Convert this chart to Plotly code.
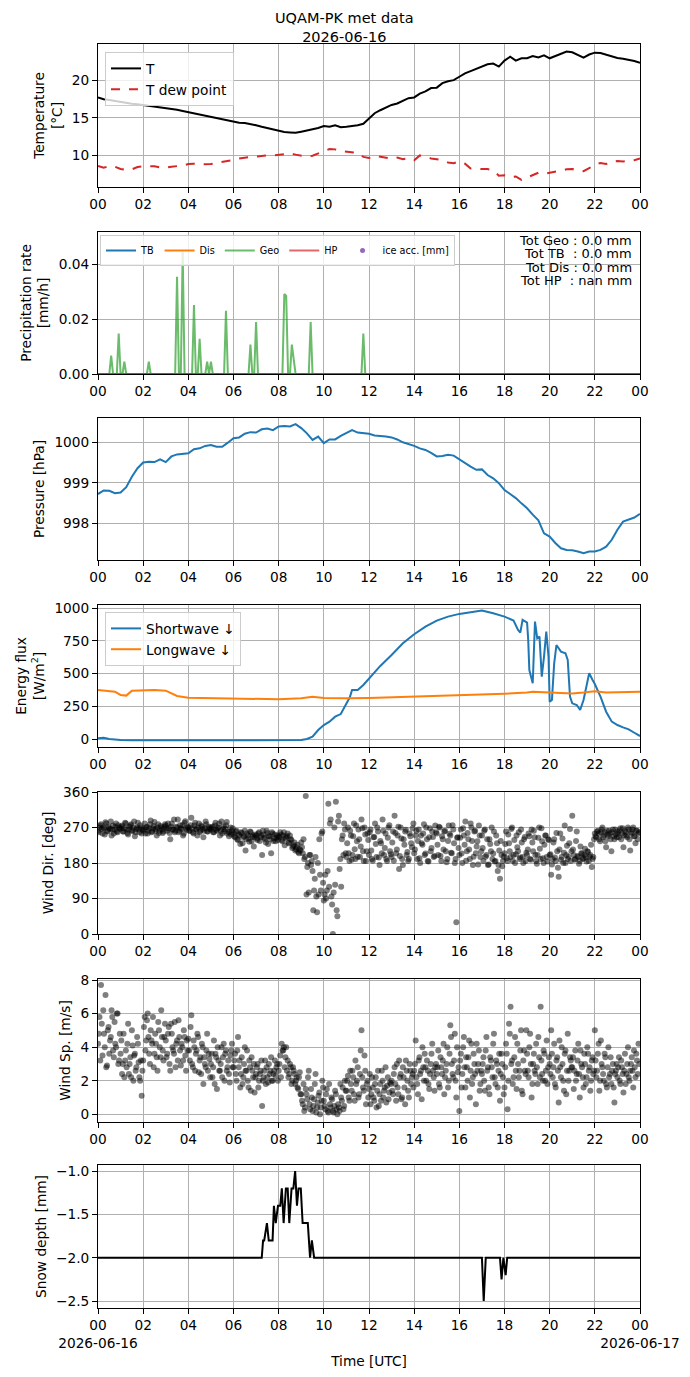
'''Daily met summary for the UQAM-PK station, 7 stacked panels.'''

import pandas as pd
import plotly.graph_objects as go
from plotly.subplots import make_subplots

day0 = pd.Timestamp("2026-06-16")

# Temperature and dew point, every 15 min (4 values per hour line + midnight)
t_air = [17.7, 17.45, 17.35, 17.2,
         17.1, 16.95, 16.85, 16.8,
         16.7, 16.55, 16.45, 16.35,
         16.3, 16.2, 16.05, 15.9,
         15.75, 15.55, 15.4, 15.2,
         15.1, 15.0, 14.85, 14.65,
         14.45, 14.35, 14.3, 14.2,
         14.0, 13.8, 13.6, 13.4,
         13.2, 13.1, 13.05, 13.0,
         13.15, 13.3, 13.55, 13.65,
         13.9, 13.8, 14.0, 13.75,
         13.8, 13.9, 14.0, 14.2,
         14.9, 15.6, 16.0, 16.4,
         16.7, 16.9, 17.2, 17.6,
         17.7, 18.2, 18.5, 18.95,
         19.0, 19.6, 19.85, 20.0,
         20.45, 20.9, 21.2, 21.5,
         21.85, 22.1, 22.2, 21.8,
         22.6, 23.1, 22.6, 22.9,
         22.9, 23.2, 23.0, 23.3,
         22.9, 23.2, 23.6, 23.8,
         23.7, 23.3, 23.0, 23.4,
         23.65, 23.6, 23.35, 23.1,
         22.95, 22.85, 22.75, 22.55,
         22.3]
t_dew = [8.6, 8.35, 8.6, 8.5,
         8.2, 8.05, 8.15, 8.45,
         8.55, 8.6, 8.55, 8.4,
         8.35, 8.5, 8.55, 8.65,
         8.85, 8.9, 8.8, 8.8,
         8.85, 9.0, 9.1, 9.3,
         9.4, 9.6, 9.75, 9.8,
         9.85, 9.95, 10.0, 10.0,
         10.05, 10.15, 10.25, 10.1,
         10.0, 9.85, 9.95, 10.3,
         10.55, 10.85, 10.8, 10.55,
         10.5, 10.4, 10.35, 9.8,
         9.65, 9.95, 9.8, 9.6,
         9.55, 9.7, 9.5, 9.65,
         9.35, 10.0, 9.75, 9.6,
         9.5, 9.35, 9.05, 8.95,
         9.2, 8.9, 8.25, 8.2,
         8.2, 8.2, 8.0, 7.3,
         7.35, 7.1, 7.2, 6.75,
         7.1, 7.4, 7.7, 7.55,
         7.7, 7.95, 8.1, 8.15,
         8.2, 8.1, 7.9, 8.3,
         8.8, 9.0, 8.85, 9.2,
         9.25, 9.2, 9.3, 9.35,
         9.6]

# Geonor precip rate spikes (minute of day, mm/h); other gauges stayed at zero
geo_minute = [35, 55, 70, 135, 210, 225, 255, 270, 290, 300, 340, 405, 420,
              495, 500, 515, 520, 565, 705]
geo_rate = [0.0067, 0.0148, 0.0045, 0.0045, 0.0355, 0.0446, 0.0252, 0.0128,
            0.0045, 0.0045, 0.0231, 0.0107, 0.019, 0.0292, 0.0285, 0.0107,
            0.005, 0.019, 0.0148]
precip_totals = ["Tot Geo : 0.0 mm", "Tot TB\u00a0 : 0.0 mm",
                 "Tot Dis : 0.0 mm", "Tot HP\u00a0 : nan mm"]

# Pressure every 15 min
pres = [998.72, 998.81, 998.80, 998.74,
        998.76, 998.89, 999.15, 999.36,
        999.50, 999.52, 999.51, 999.58,
        999.51, 999.65, 999.70, 999.71,
        999.73, 999.83, 999.85, 999.91,
        999.93, 999.89, 999.89, 999.99,
        1000.10, 1000.12, 1000.21, 1000.25,
        1000.24, 1000.32, 1000.34, 1000.30,
        1000.39, 1000.40, 1000.39, 1000.45,
        1000.35, 1000.22, 1000.06, 1000.14,
        999.98, 1000.07, 1000.07, 1000.16,
        1000.22, 1000.30, 1000.24, 1000.22,
        1000.21, 1000.17, 1000.16, 1000.14,
        1000.12, 1000.07, 1000.00, 999.96,
        999.91, 999.85, 999.81, 999.74,
        999.65, 999.66, 999.69, 999.67,
        999.58, 999.47, 999.40, 999.32,
        999.33, 999.19, 999.11, 998.99,
        998.82, 998.72, 998.62, 998.49,
        998.37, 998.21, 998.07, 997.75,
        997.67, 997.51, 997.38, 997.34,
        997.33, 997.30, 997.26, 997.30,
        997.30, 997.34, 997.42, 997.59,
        997.84, 998.04, 998.10, 998.14,
        998.23]

# Radiation (hour of day, W/m2)
sw_hour = [0, 0.25, 0.5, 1, 1.5, 2, 3, 4, 5, 6, 7, 8, 9, 9.25, 9.5, 9.75,
           10, 10.25, 10.5, 10.75, 11, 11.15, 11.25, 11.5, 11.75, 12, 12.5,
           13, 13.5, 14, 14.5, 15, 15.5, 16, 16.5, 17, 17.5, 18, 18.4, 18.6,
           18.7, 18.8, 19.0, 19.05, 19.1, 19.25, 19.35, 19.45, 19.55, 19.65,
           19.75, 19.85, 19.95, 20.0, 20.1, 20.2, 20.3, 20.5, 20.7, 20.8,
           20.9, 21.0, 21.2, 21.35, 21.5, 21.75, 21.9, 22.0, 22.25, 22.5,
           22.75, 23, 23.25, 23.5, 23.75, 24]
sw_down = [5, 10, 0, -8, -10, -10, -10, -12, -12, -12, -12, -12, -8, 0, 18,
           69, 107, 133, 171, 191, 273, 319, 375, 375, 413, 464, 559, 643,
           732, 801, 860, 906, 936, 957, 967, 982, 962, 936, 906, 834, 814,
           911, 890, 758, 528, 426, 898, 770, 783, 477, 630, 821, 630, 286,
           298, 579, 719, 668, 656, 605, 324, 273, 260, 222, 298, 503, 452,
           421, 324, 209, 133, 107, 89, 74, 48, 23]
lw_hour = [0, 0.5, 0.75, 1, 1.25, 1.5, 2, 2.5, 3, 3.25, 3.5, 4, 5, 6, 7, 8,
           9, 9.25, 9.5, 10, 11, 12, 13, 14, 15, 16, 17, 18, 19, 19.25, 20,
           21, 21.5, 22, 22.5, 23, 24]
lw_down = [375, 370, 362, 337, 332, 370, 375, 375, 370, 349, 329, 316, 314,
           309, 306, 304, 311, 319, 324, 314, 311, 314, 319, 324, 329, 339,
           344, 347, 355, 362, 355, 349, 355, 365, 355, 357, 362]

# Wind, samples every 4 min (15 per hour line); *_b are the samples 2 min later
wind_dir = [262, 270, 278, 255, 268, 283, 260, 272, 266, 250, 275, 264, 280, 258, 270,
            268, 275, 260, 282, 265, 252, 272, 278, 262, 285, 258, 270, 266, 276, 255,
            262, 280, 270, 255, 268, 288, 260, 274, 266, 250, 278, 262, 270, 256, 272,
            275, 262, 268, 240, 280, 265, 258, 272, 290, 262, 268, 276, 255, 286, 264,
            270, 262, 295, 258, 275, 266, 250, 280, 262, 272, 245, 268, 278, 260, 266,
            264, 272, 258, 282, 262, 270, 250, 285, 266, 260, 276, 255, 248, 270, 262,
            255, 245, 262, 238, 250, 258, 230, 248, 212, 255, 242, 260, 235, 250, 245,
            250, 238, 258, 245, 200, 252, 240, 262, 228, 248, 205, 255, 242, 235, 250,
            248, 258, 238, 250, 225, 245, 255, 232, 240, 218, 225, 212, 220, 208, 215,
            232, 205, 190, 350, 170, 105, 200, 185, 60, 140, 95, 180, 240, 110, 260,
            85, 150, 110, 330, 280, 95, 0, 270, 335, 45, 300, 190, 240, 200, 265,
            195, 270, 185, 250, 200, 280, 190, 235, 265, 195, 290, 210, 270, 185, 255,
            200, 265, 190, 245, 280, 195, 260, 175, 230, 290, 200, 255, 185, 270, 210,
            195, 260, 300, 205, 250, 165, 270, 190, 240, 260, 200, 185, 255, 230, 268,
            205, 250, 190, 265, 180, 230, 255, 200, 270, 185, 245, 210, 260, 195, 275,
            255, 200, 270, 185, 240, 260, 210, 190, 275, 250, 205, 265, 180, 30, 245,
            200, 265, 180, 250, 285, 210, 240, 190, 270, 175, 260, 205, 235, 275, 195,
            250, 185, 265, 200, 175, 240, 210, 190, 260, 185, 230, 175, 140, 200, 185,
            205, 260, 185, 230, 195, 270, 200, 180, 250, 210, 190, 265, 195, 240, 185,
            200, 255, 190, 265, 210, 245, 185, 200, 270, 190, 235, 180, 250, 195, 240,
            200, 150, 190, 240, 185, 210, 145, 255, 195, 180, 275, 200, 190, 230, 185,
            300, 200, 190, 260, 195, 185, 205, 190, 200, 195, 210, 185, 200, 170, 195,
            255, 245, 262, 240, 258, 270, 250, 235, 262, 248, 255, 210, 265, 240, 252,
            260, 245, 268, 255, 220, 262, 250, 270, 240, 258, 265, 248, 230, 262, 255]
wind_dir_b = [258, 275, 266, 270, 252, 280, 262, 268, 285, 264, 255, 272, 260, 276, 266,
              272, 260, 268, 280, 256, 265, 275, 262, 270, 248, 266, 282, 258, 270, 264,
              266, 255, 272, 262, 278, 258, 268, 284, 262, 270, 256, 274, 265, 260, 278,
              268, 280, 256, 272, 264, 290, 262, 270, 258, 276, 266, 250, 282, 268, 272,
              262, 276, 268, 255, 282, 264, 270, 258, 275, 266, 262, 285, 260, 272, 268,
              270, 258, 275, 264, 268, 280, 262, 255, 272, 266, 284, 260, 258, 252, 268,
              248, 260, 240, 252, 228, 256, 245, 262, 240, 250, 234, 258, 246, 222, 252,
              242, 255, 236, 250, 262, 244, 232, 256, 248, 240, 258, 236, 252, 244, 238,
              245, 252, 235, 258, 242, 248, 230, 250, 238, 222, 232, 215, 226, 205, 212,
              220, 240, 195, 100, 180, 200, 175, 160, 110, 195, 55, 100, 150, 255, 130,
              100, 90, 160, 120, 290, 75, 105, 125, 60, 285, 165, 120, 250, 280, 205,
              230, 205, 262, 188, 248, 215, 275, 196, 240, 222, 268, 185, 252, 210, 238,
              258, 212, 186, 246, 228, 270, 194, 236, 205, 262, 218, 190, 244, 276, 202,
              232, 186, 256, 214, 272, 198, 242, 175, 226, 264, 208, 190, 248, 220, 280,
              214, 262, 236, 192, 250, 226, 278, 204, 240, 184, 268, 218, 246, 198, 258,
              226, 272, 198, 248, 214, 262, 182, 236, 254, 206, 276, 230, 190, 244, 218,
              244, 204, 268, 226, 186, 256, 214, 280, 236, 196, 262, 222, 176, 250, 210,
              218, 262, 196, 240, 176, 228, 270, 204, 184, 250, 160, 212, 236, 172, 196,
              228, 192, 252, 210, 266, 186, 238, 202, 220, 258, 194, 232, 180, 246, 206,
              214, 248, 188, 232, 262, 200, 178, 244, 216, 268, 192, 226, 250, 184, 238,
              202, 176, 232, 194, 256, 168, 214, 188, 242, 206, 180, 224, 196, 266, 210,
              214, 188, 236, 198, 178, 222, 204, 192, 216, 184, 208, 196, 226, 190, 240,
              248, 260, 255, 235, 265, 245, 258, 220, 252, 262, 240, 258, 248, 265, 245,
              255, 262, 240, 268, 250, 258, 245, 265, 212, 255, 270, 248, 262, 240, 258]
wind_spd = [4.2, 5.8, 7.7, 3.5, 4.8, 7.1, 2.9, 5.2, 4.4, 6.2, 3.8, 5.5, 4.0, 6.0, 3.2,
            3.6, 2.4, 4.8, 3.2, 2.8, 5.4, 3.0, 2.2, 4.1, 3.5, 2.6, 4.6, 3.1, 2.0, 1.1,
            3.2, 5.8, 4.4, 6.0, 3.6, 5.0, 4.2, 2.8, 4.8, 3.4, 5.5, 4.0, 6.2, 3.8, 4.6,
            4.4, 3.6, 5.2, 2.6, 4.8, 3.8, 5.5, 4.2, 3.2, 4.6, 2.9, 4.0, 5.0, 3.5, 4.4,
            4.5, 3.2, 5.9, 2.8, 4.0, 3.6, 4.8, 2.5, 3.4, 4.2, 1.8, 3.0, 3.8, 2.6, 3.3,
            3.0, 2.2, 4.4, 3.6, 1.5, 3.2, 2.6, 4.0, 3.4, 2.0, 3.8, 2.8, 2.4, 3.5, 4.2,
            2.8, 3.6, 2.0, 4.6, 3.2, 2.4, 1.8, 3.0, 2.6, 3.8, 1.6, 2.8, 3.4, 2.2, 1.3,
            2.4, 3.0, 2.0, 2.6, 0.5, 2.2, 3.2, 2.8, 1.9, 2.4, 3.4, 2.0, 2.6, 2.3, 3.0,
            2.6, 3.5, 4.2, 3.8, 2.8, 4.0, 3.2, 2.4, 2.8, 2.0, 2.6, 1.8, 2.2, 1.5, 2.5,
            1.2, 0.6, 0.2, 1.5, 0.9, 2.6, 0.3, 1.0, 0.5, 1.8, 0.1, 0.7, 1.3, 0.4, 2.0,
            0.8, 0.3, 1.5, 0.1, 0.6, 1.0, 0.2, 0.5, 1.2, 0.0, 0.4, 1.8, 0.8, 0.3, 2.0,
            1.4, 2.3, 0.8, 1.8, 2.6, 1.2, 3.2, 2.0, 1.0, 2.4, 5.0, 1.6, 3.5, 0.6, 2.0,
            1.5, 0.6, 2.2, 1.0, 1.8, 0.4, 2.6, 1.2, 0.8, 2.0, 1.4, 2.8, 1.7, 0.9, 1.9,
            2.0, 1.2, 2.8, 0.8, 1.6, 3.2, 2.4, 1.0, 2.2, 0.6, 2.6, 1.4, 3.0, 1.8, 2.4,
            2.6, 4.4, 1.8, 3.2, 2.4, 0.9, 2.8, 3.6, 2.0, 2.6, 1.5, 3.0, 4.2, 2.2, 2.8,
            2.4, 3.8, 1.6, 2.8, 3.2, 1.2, 2.6, 4.0, 2.0, 5.3, 3.0, 2.2, 4.8, 1.0, 2.5,
            0.2, 3.6, 2.4, 4.6, 1.6, 2.8, 3.4, 1.0, 4.2, 2.2, 3.0, 0.6, 2.6, 3.8, 1.8,
            2.4, 3.4, 1.4, 4.6, 2.8, 1.2, 3.2, 2.2, 4.8, 1.8, 3.0, 2.6, 0.8, 3.6, 2.2,
            1.6, 4.2, 0.3, 5.4, 6.4, 3.2, 2.2, 4.6, 1.5, 3.0, 2.6, 5.0, 1.2, 3.8, 2.4,
            3.6, 2.2, 4.8, 1.0, 3.0, 2.6, 4.2, 1.8, 3.4, 6.4, 2.4, 3.8, 2.0, 4.4, 2.8,
            3.0, 5.0, 2.2, 4.2, 1.6, 3.4, 0.7, 2.8, 4.0, 2.0, 3.6, 1.2, 4.8, 2.6, 3.2,
            2.8, 1.5, 3.8, 2.4, 4.2, 1.0, 3.0, 2.2, 3.6, 1.8, 4.0, 2.6, 1.4, 3.2, 2.4,
            5.0, 2.2, 3.6, 1.4, 4.4, 2.8, 2.0, 3.4, 1.6, 4.0, 2.4, 1.8, 3.0, 0.7, 2.6,
            2.2, 3.4, 1.8, 2.8, 1.3, 3.6, 2.4, 4.0, 2.0, 3.0, 2.6, 3.8, 2.2, 3.2, 4.2]
wind_spd_b = [4.8, 3.2, 5.4, 6.2, 4.0, 2.8, 5.0, 3.6, 4.6, 5.8, 3.4, 4.2, 6.0, 3.0, 4.8,
              4.4, 3.0, 2.2, 3.8, 4.2, 2.4, 3.4, 5.0, 2.0, 3.6, 2.8, 4.2, 2.2, 3.2, 2.6,
              5.2, 3.8, 5.6, 4.6, 3.0, 4.4, 5.8, 3.6, 4.2, 2.6, 5.0, 3.4, 4.6, 3.2, 5.4,
              3.4, 4.8, 3.0, 5.4, 4.0, 3.6, 2.8, 4.4, 5.6, 3.8, 4.2, 3.2, 4.6, 2.6, 3.8,
              3.8, 5.2, 3.0, 4.4, 2.6, 3.8, 4.6, 3.2, 2.4, 4.0, 3.4, 2.8, 4.8, 3.6, 2.2,
              3.6, 2.8, 1.8, 3.4, 4.0, 2.6, 3.0, 2.2, 4.2, 3.6, 2.6, 3.2, 1.9, 3.8, 2.8,
              3.2, 2.4, 3.8, 2.8, 1.6, 3.4, 2.2, 4.0, 2.6, 2.0, 3.2, 1.4, 2.6, 3.0, 2.2,
              2.8, 1.6, 2.4, 3.2, 2.0, 2.6, 1.8, 2.2, 3.0, 2.6, 2.0, 2.4, 3.2, 2.8, 2.0,
              3.0, 2.2, 3.8, 4.0, 3.4, 2.6, 2.2, 3.0, 1.8, 2.8, 2.4, 2.0, 1.6, 2.2, 1.2,
              0.8, 1.8, 0.4, 1.2, 2.2, 0.6, 1.5, 0.2, 0.9, 2.4, 0.4, 1.1, 0.0, 0.8, 1.6,
              0.5, 1.2, 0.2, 1.8, 0.4, 0.9, 0.1, 1.4, 0.3, 0.6, 0.2, 1.0, 1.6, 0.5, 1.4,
              2.0, 1.0, 2.6, 1.4, 2.2, 0.8, 1.8, 2.8, 1.2, 3.8, 2.2, 1.4, 2.6, 1.8, 1.0,
              2.4, 1.2, 1.6, 0.8, 2.2, 1.4, 0.5, 1.8, 2.6, 1.0, 1.6, 0.7, 2.2, 1.3, 1.8,
              1.4, 2.4, 1.8, 3.0, 1.2, 2.2, 0.9, 2.8, 1.6, 3.2, 2.0, 1.0, 2.6, 2.2, 1.6,
              3.0, 2.2, 1.2, 3.4, 2.6, 4.0, 2.0, 2.8, 3.2, 1.8, 2.4, 3.6, 2.6, 1.4, 3.0,
              2.8, 1.8, 3.4, 2.4, 4.2, 2.2, 3.0, 1.6, 3.6, 4.6, 2.4, 3.2, 2.0, 4.0, 2.8,
              3.2, 1.6, 4.0, 2.8, 3.4, 2.0, 4.4, 2.6, 1.8, 3.6, 2.4, 4.2, 3.0, 1.4, 2.6,
              3.0, 2.0, 3.8, 2.6, 1.6, 3.4, 2.8, 4.2, 2.2, 3.2, 1.6, 3.6, 2.4, 3.0, 1.2,
              2.8, 3.6, 2.0, 4.8, 3.0, 1.8, 3.4, 2.6, 4.2, 2.2, 3.8, 1.4, 3.2, 2.6, 5.0,
              2.6, 4.0, 3.0, 1.8, 3.6, 2.4, 2.8, 4.6, 2.2, 3.2, 2.0, 3.6, 2.6, 1.8, 3.4,
              2.4, 3.6, 2.8, 1.8, 3.2, 2.6, 4.4, 2.2, 3.0, 1.4, 3.8, 2.6, 2.0, 3.4, 2.8,
              3.4, 2.6, 2.0, 3.2, 2.4, 3.8, 2.8, 1.6, 3.0, 2.2, 3.6, 2.8, 2.0, 3.4, 2.6,
              3.2, 2.6, 4.2, 2.0, 3.0, 2.4, 3.6, 1.8, 2.8, 2.2, 3.4, 2.6, 1.6, 2.4, 3.0,
              2.8, 2.0, 3.2, 2.4, 2.6, 1.8, 3.0, 2.2, 2.6, 3.4, 1.6, 2.8, 3.6, 2.4, 3.0]

# Snow depth break points (hour of day, mm)
snow_hour = [0, 7.25, 7.31, 7.36, 7.48, 7.56, 7.73, 7.79, 7.87, 7.97, 8.07,
             8.14, 8.22, 8.32, 8.40, 8.47, 8.57, 8.65, 8.73, 8.81, 8.88, 8.98,
             9.06, 9.29, 9.39, 9.47, 9.57, 17.0, 17.08, 17.17, 17.8, 17.87,
             17.95, 18.05, 18.12, 24]
snow_mm = [-2.0, -2.0, -1.8, -1.8, -1.6, -1.8, -1.8, -1.4, -1.6, -1.4, -1.4,
           -1.2, -1.6, -1.2, -1.2, -1.6, -1.2, -1.2, -1.0, -1.4, -1.2, -1.2,
           -1.6, -1.6, -2.0, -1.8, -2.0, -2.0, -2.5, -2.0, -2.0, -2.25, -2.0,
           -2.2, -2.0, -2.0]

hour_ticks = ["00", "02", "04", "06", "08", "10", "12", "14", "16", "18", "20", "22", "00"]


def q(n):
    return pd.date_range(day0, periods=n, freq="15min")


def hrs(h):
    return day0 + pd.to_timedelta(h, unit="h")


t5 = pd.date_range(day0, periods=289, freq="5min")
geo = [0.0] * 289
for m, v in zip(geo_minute, geo_rate):
    geo[m // 5] = v
zeros = [0.0] * 289
t_wa = pd.date_range(day0, periods=len(wind_dir), freq="4min")
t_wb = t_wa + pd.Timedelta(minutes=2)
t_wind = list(t_wa) + list(t_wb)

fig = make_subplots(rows=7, cols=1)

fig.add_trace(go.Scatter(x=q(len(t_air)), y=t_air, name="T", mode="lines",
                         line=dict(color="black", width=2), legend="legend"), 1, 1)
fig.add_trace(go.Scatter(x=q(len(t_dew)), y=t_dew, name="T dew point", mode="lines",
                         line=dict(color="#d62728", width=2, dash="dash"),
                         legend="legend"), 1, 1)

fig.add_trace(go.Scatter(x=t5, y=zeros, name="TB", mode="lines",
                         line=dict(color="#1f77b4", width=2), legend="legend2"), 2, 1)
fig.add_trace(go.Scatter(x=t5, y=zeros, name="Dis", mode="lines",
                         line=dict(color="#ff7f0e", width=2), legend="legend2"), 2, 1)
fig.add_trace(go.Scatter(x=t5, y=geo, name="Geo", mode="lines", opacity=0.7,
                         line=dict(color="#2ca02c", width=2), legend="legend2"), 2, 1)
fig.add_trace(go.Scatter(x=t5, y=zeros, name="HP", mode="lines", opacity=0.7,
                         line=dict(color="#d62728", width=2), legend="legend2"), 2, 1)
fig.add_trace(go.Scatter(x=[None], y=[None], name="ice acc. [mm]", mode="markers",
                         marker=dict(color="#9467bd", size=5), legend="legend2"), 2, 1)

fig.add_trace(go.Scatter(x=q(len(pres)), y=pres, mode="lines", showlegend=False,
                         line=dict(color="#1f77b4", width=2)), 3, 1)

fig.add_trace(go.Scatter(x=hrs(sw_hour), y=sw_down, name="Shortwave ↓", mode="lines",
                         line=dict(color="#1f77b4", width=2), legend="legend3"), 4, 1)
fig.add_trace(go.Scatter(x=hrs(lw_hour), y=lw_down, name="Longwave ↓", mode="lines",
                         line=dict(color="#ff7f0e", width=2), legend="legend3"), 4, 1)

fig.add_trace(go.Scatter(x=t_wind, y=wind_dir + wind_dir_b, mode="markers", showlegend=False,
                         marker=dict(color="black", size=6, opacity=0.5)), 5, 1)
fig.add_trace(go.Scatter(x=t_wind, y=wind_spd + wind_spd_b, mode="markers", showlegend=False,
                         marker=dict(color="black", size=6, opacity=0.5)), 6, 1)

fig.add_trace(go.Scatter(x=hrs(snow_hour), y=snow_mm, mode="lines", showlegend=False,
                         line=dict(color="black", width=2)), 7, 1)

# the page body adds an 8 px margin, so the figure is drawn 8 px in from the window
W, H, OFF = 674, 1361, 8
PL, PR = 98 - OFF, 640 - OFF


def py(v):
    return 1 - (v - OFF) / H


def px(v):
    return (v - OFF - PL) / (PR - PL)


# panel pixel extents in the window (top, bottom)
panels = [(44, 187), (232, 374), (418, 560), (605, 747), (792, 934), (979, 1122), (1165, 1308)]
y_ranges = [[5.8, 24.8], [0, 0.0518], [997.09, 1000.6], [-61, 1025], [0, 360],
            [-0.46, 8.06], [-2.58, -0.93]]
y_titles = ["Temperature<br>[°C]", "Precipitation rate<br>[mm/h]", "Pressure [hPa]",
            "Energy flux<br>[W/m<sup>2</sup>]", "Wind Dir. [deg]", "Wind Sp. [m/s]",
            "Snow depth [mm]"]
y_dticks = [5, 0.02, 1, 250, 90, 2, 0.5]
y_fmt = ["", ".2f", "", "", "", "", ".1f"]

FS = 13.7
axis_common = dict(showline=True, linecolor="black", linewidth=1, mirror=True,
                   ticks="outside", ticklen=5, tickwidth=1, tickcolor="black",
                   showgrid=True, gridcolor="#b0b0b0", gridwidth=0.8, zeroline=False,
                   automargin=False, tickfont=dict(size=FS, color="black"))

tick_vals = [day0 + pd.Timedelta(hours=2 * i) for i in range(13)]
for i, (top, bot) in enumerate(panels):
    n = "" if i == 0 else str(i + 1)
    fig.layout["yaxis" + n].update(domain=[py(bot), py(top)], range=y_ranges[i],
                                   dtick=y_dticks[i], tickformat=y_fmt[i],
                                   title=dict(text=y_titles[i], standoff=6,
                                              font=dict(size=FS, color="black")),
                                   **axis_common)
    labels = list(hour_ticks)
    if i == 6:
        labels[0] = "00<br>2026-06-16"
        labels[-1] = "00<br>2026-06-17"
    fig.layout["xaxis" + n].update(range=[tick_vals[0], tick_vals[-1]], type="date",
                                   tickvals=tick_vals, ticktext=labels, tickangle=0,
                                   **axis_common)

fig.layout.xaxis7.title = dict(text="Time [UTC]", font=dict(size=FS, color="black"),
                               standoff=6)

# suptitle, two lines
fig.add_annotation(xref="paper", yref="paper", x=px(344.7), y=py(27.5),
                   text="UQAM-PK met data<br>2026-06-16", xanchor="center",
                   yanchor="middle", showarrow=False, borderpad=0,
                   font=dict(size=14.5, color="black"))

for text, yc in zip(precip_totals, [240.7, 254, 267.3, 280.7]):
    fig.add_annotation(xref="paper", yref="paper", x=px(633), y=py(yc), text=text,
                       xanchor="right", yanchor="middle", showarrow=False, borderpad=0,
                       font=dict(size=13, color="black"))

legend_style = dict(bgcolor="rgba(255,255,255,0.8)", bordercolor="#cccccc", borderwidth=1,
                    xanchor="left", yanchor="top", font=dict(size=FS, color="black"))
fig.update_layout(
    width=W, height=H,
    margin=dict(l=PL, r=W - PR, t=0, b=0),
    plot_bgcolor="white", paper_bgcolor="white",
    font=dict(family="DejaVu Sans", size=FS, color="black"),
    legend=dict(x=px(105), y=py(52), **legend_style),
    legend2=dict(x=px(100), y=py(235), orientation="h",
                 **{**legend_style, "font": dict(size=9.7, color="black")}),
    legend3=dict(x=px(105), y=py(612), **legend_style),
)

fig.write_html("out.html")
